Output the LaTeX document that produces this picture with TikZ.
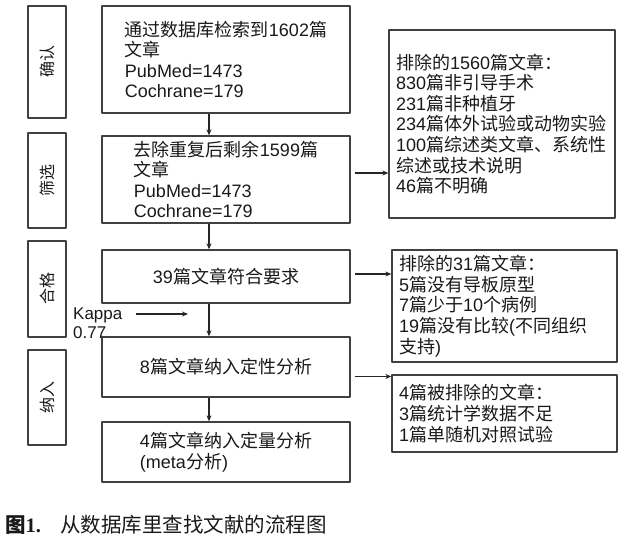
\documentclass[tikz,border=0pt]{standalone}
\usepackage{fontspec}
\usetikzlibrary{arrows.meta}
\setmainfont{Liberation Sans}
\newfontfamily\cjk{Noto Sans CJK SC}
\newfontfamily\song{Liberation Serif}
\newcommand{\zh}[1]{{\cjk #1}}
\begin{document}
\begin{tikzpicture}[x=1pt,y=-1pt,>={Stealth[length=6pt,width=5pt]},line join=round,
  font=\fontsize{18}{20.6}\selectfont,text=black!90,
  box/.style={draw=black!75,line width=1.3pt,align=left,minimum width=248pt,inner sep=0pt},
  side/.style={draw=black!75,line width=1.3pt,rotate=90,minimum height=38pt,inner sep=0pt,font=\fontsize{16}{18}\selectfont},
  note/.style={draw=black!75,line width=1.3pt,align=left,inner xsep=7pt,inner ysep=0pt},
  flow/.style={->,line width=1.1pt,draw=black!85}]
\useasboundingbox (0,0) rectangle (633,537);
\def\ax{209} % x of the down arrows
\coordinate (ax) at (\ax,0);
\node[side,minimum width=112pt] (s1) at (47,62) {\zh{确认}};
\node[side,minimum width=95pt] (s2) at (47,180.5) {\zh{筛选}};
\node[side,minimum width=96pt] (s3) at (47,289) {\zh{合格}};
\node[side,minimum width=95pt] (s4) at (47,397.5) {\zh{纳入}};
\node[box,minimum height=107pt] (b1) at (226,59.5) {\zh{通过数据库检索到}1602\zh{篇}\\\zh{文章}\\PubMed=1473\\Cochrane=179};
\node[box,minimum height=87pt] (b2) at (226,179.5) {\zh{去除重复后剩余}1599\zh{篇}\\\zh{文章}\\PubMed=1473\\Cochrane=179};
\node[box,minimum height=53pt] (b3) at (226,276.5) {39\zh{篇文章符合要求}};
\node[box,minimum height=60pt] (b4) at (226,367) {8\zh{篇文章纳入定性分析}};
\node[box,minimum height=60pt] (b5) at (226,452) {4\zh{篇文章纳入定量分析}\\(meta\zh{分析})};
\node[note,text width=212pt,minimum height=188pt] (r1) at (502,124) {\zh{排除的}1560\zh{篇文章：}\\830\zh{篇非引导手术}\\231\zh{篇非种植牙}\\234\zh{篇体外试验或动物实验}\\100\zh{篇综述类文章、系统性}\\\zh{综述或技术说明}\\46\zh{篇不明确}};
\node[note,text width=211pt,minimum height=112pt] (r2) at (504.5,306) {\zh{排除的}31\zh{篇文章：}\\5\zh{篇没有导板原型}\\7\zh{篇少于}10\zh{个病例}\\19\zh{篇没有比较}(\zh{不同组织}\\\zh{支持})};
\node[note,text width=211pt,minimum height=77pt] (r3) at (504.5,413.5) {4\zh{篇被排除的文章：}\\3\zh{篇统计学数据不足}\\1\zh{篇单随机对照试验}};
\node[anchor=north west,inner sep=0pt,align=left,font=\fontsize{17}{19}\selectfont] (kappa) at (73,308) {Kappa\\0.77};
\foreach \a/\b in {b1/b2,b2/b3,b3/b4,b4/b5}
  \draw[flow] (\a.south -| ax) -- (\b.north -| ax);
\coordinate (e2) at ([xshift=4pt,yshift=6.5pt]b2.east);
\coordinate (e3) at ([xshift=4pt,yshift=2.5pt]b3.east);
\coordinate (e4) at ([xshift=4pt,yshift=-9.5pt]b4.east);
\draw[flow] (e2) -- (e2 -| r1.west);
\draw[flow] (e3) -- (e3 -| r2.west);
\draw[flow] (e4) -- (e4 -| r3.west);
\coordinate (k1) at ([xshift=13pt,yshift=-6pt]kappa.north east);
\coordinate (k2) at (188,314);
\draw[flow] (k1) -- (k2);
\node[anchor=west,inner sep=0pt,font=\fontsize{20.5}{22}\selectfont\bfseries] (fig) at (5,525) {\zh{图}\song 1.};
\node[anchor=west,inner sep=0pt,font=\fontsize{20.5}{22}\selectfont] (cap) at (60,525) {\zh{从数据库里查找文献的流程图}};
\end{tikzpicture}
\end{document}
